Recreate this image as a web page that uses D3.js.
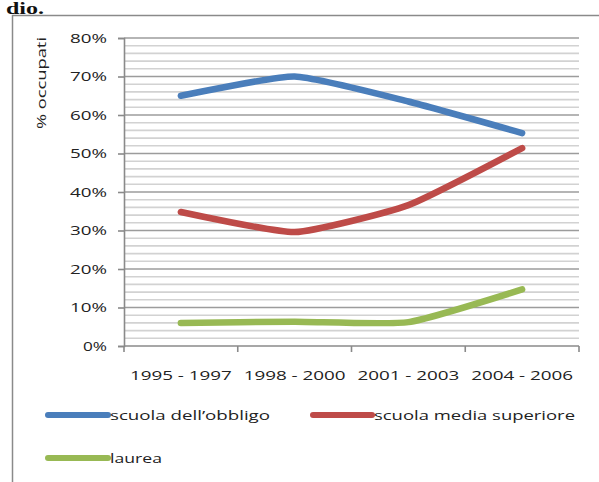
<!DOCTYPE html>
<html>
<head>
<meta charset="utf-8">
<script src="https://cdn.jsdelivr.net/npm/d3@7"></script>
<style>
  html, body { margin: 0; padding: 0; background: #fff; }
  svg { display: block; }
</style>
</head>
<body>
<svg id="chart" width="599" height="482"></svg>
<script>
const categories = ["1995 - 1997", "1998 - 2000", "2001 - 2003", "2004 - 2006"];
const seriesNames = ["scuola dell\u2019obbligo", "scuola media superiore", "laurea"];
const obbligo = [0.65, 0.70, 0.635, 0.553];
const superiore = [0.348, 0.296, 0.366, 0.514];
const laurea = [0.06, 0.063, 0.062, 0.147];
const yTicks = [0, 0.1, 0.2, 0.3, 0.4, 0.5, 0.6, 0.7, 0.8];
const yTickLabels = ["0%", "10%", "20%", "30%", "40%", "50%", "60%", "70%", "80%"];
const colors = ["#4a7ebb", "#be4b48", "#98b954"];
const yTitle = "% occupati";

(function () {
const svg = d3.select("#chart");
const font = "'Open Sans', 'DejaVu Sans', sans-serif";

// fragment of document text above the chart
svg.append("text").attr("x", 6).attr("y", 13.5)
  .attr("font-family", "'Liberation Serif', serif").attr("font-weight", "bold")
  .attr("font-size", 16).attr("fill", "#111")
  .attr("textLength", 38).attr("lengthAdjust", "spacingAndGlyphs").text("dio.");

// chart frame
svg.append("path").attr("d", "M12.5,482 V15.5 H599")
  .attr("fill", "none").attr("stroke", "#8a8a8a").attr("stroke-width", 1.5);

const pLeft = 124, pRight = 579, pTop = 38, pBottom = 346;
const x = d3.scaleBand().domain(categories).range([pLeft, pRight]);
const y = d3.scaleLinear().domain([0, 0.8]).range([pBottom, pTop]);

// minor gridlines every 2%
const minor = d3.range(0, 81, 2).map(v => v / 100).filter(v => Math.round(v * 100) % 10 !== 0);
svg.append("g").selectAll("line").data(minor).join("line")
  .attr("x1", pLeft).attr("x2", pRight)
  .attr("y1", d => y(d)).attr("y2", d => y(d))
  .attr("stroke", "#d2d2d2").attr("stroke-width", 1.6);

// major gridlines
svg.append("g").selectAll("line").data(yTicks.slice(1)).join("line")
  .attr("x1", pLeft).attr("x2", pRight)
  .attr("y1", d => y(d)).attr("y2", d => y(d))
  .attr("stroke", "#9c9c9c").attr("stroke-width", 1.6);

// y axis
const yAxis = d3.axisLeft(y).tickValues(yTicks)
  .tickFormat((d, i) => yTickLabels[i]).tickSize(6).tickPadding(11);
const gy = svg.append("g").attr("transform", `translate(${pLeft},0)`).call(yAxis);
gy.select(".domain").attr("stroke", "#8a8a8a").attr("stroke-width", 1.6);
gy.selectAll(".tick line").attr("stroke", "#8a8a8a").attr("stroke-width", 1.6);
gy.selectAll(".tick text").attr("font-family", font).attr("font-size", 12.5)
  .attr("fill", "#222").attr("textLength", 37).attr("lengthAdjust", "spacingAndGlyphs");
gy.selectAll(".tick text").filter((d) => d === 0).attr("textLength", 24);

// x axis (ticks at band boundaries)
const bounds = categories.map(c => x(c)).concat([pRight]);
const gx = svg.append("g");
gx.append("line").attr("x1", pLeft).attr("x2", pRight).attr("y1", pBottom).attr("y2", pBottom)
  .attr("stroke", "#8a8a8a").attr("stroke-width", 1.6);
gx.selectAll("line.t").data(bounds).join("line").attr("class", "t")
  .attr("x1", d => d).attr("x2", d => d).attr("y1", pBottom).attr("y2", pBottom + 6)
  .attr("stroke", "#8a8a8a").attr("stroke-width", 1.6);
gx.selectAll("text").data(categories).join("text")
  .attr("x", d => x(d) + x.bandwidth() / 2).attr("y", 380)
  .attr("text-anchor", "middle").attr("font-family", font).attr("font-size", 13)
  .attr("fill", "#222").attr("textLength", 102).attr("lengthAdjust", "spacingAndGlyphs")
  .text(d => d);

// y title
svg.append("text").attr("transform", "translate(46,83) rotate(-90)")
  .attr("text-anchor", "middle").attr("font-family", font).attr("font-size", 13)
  .attr("fill", "#222").attr("textLength", 92).attr("lengthAdjust", "spacingAndGlyphs")
  .text(yTitle);

// lines
const data = [obbligo, superiore, laurea];
const line = d3.line()
  .x((d, i) => x(categories[i]) + x.bandwidth() / 2)
  .y(d => y(d))
  .curve(d3.curveCardinal.tension(0.5));
svg.append("g").selectAll("path").data(data).join("path")
  .attr("d", d => line(d)).attr("fill", "none")
  .attr("stroke", (d, i) => colors[i]).attr("stroke-width", 6.5)
  .attr("stroke-linecap", "round").attr("stroke-linejoin", "round");

// legend
const legendItems = [
  { x: 48, y: 415, w: 60, tx: 110, tl: 160 },
  { x: 313, y: 415, w: 59, tx: 374, tl: 201 },
  { x: 48, y: 458, w: 60, tx: 110, tl: 52 }
];
const lg = svg.append("g");
legendItems.forEach((it, i) => {
  lg.append("line").attr("x1", it.x).attr("x2", it.x + it.w).attr("y1", it.y).attr("y2", it.y)
    .attr("stroke", colors[i]).attr("stroke-width", 6).attr("stroke-linecap", "round");
  lg.append("text").attr("x", it.tx).attr("y", it.y + 5)
    .attr("font-family", font).attr("font-size", 13).attr("fill", "#222")
    .attr("textLength", it.tl).attr("lengthAdjust", "spacingAndGlyphs")
    .text(seriesNames[i]);
});
})();
</script>
</body>
</html>
